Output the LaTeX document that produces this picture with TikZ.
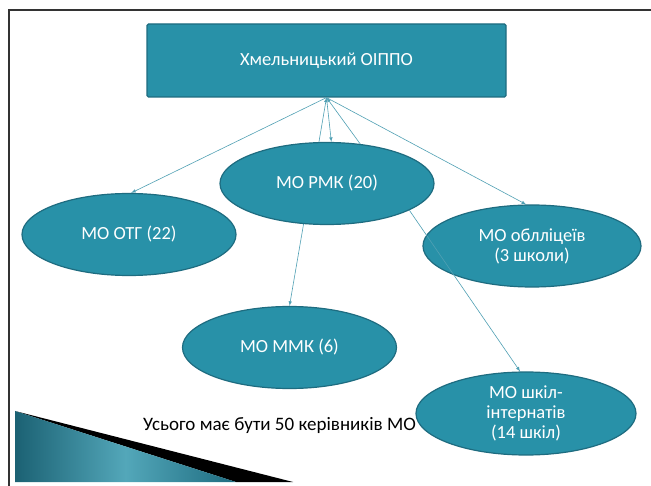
\documentclass[tikz,border=0pt]{standalone}
\usepackage{fontspec}
\setmainfont{Carlito}
\usetikzlibrary{arrows}
\usetikzlibrary{shapes.geometric}
\definecolor{slideTeal}{RGB}{40,145,168}
\definecolor{slideEdge}{RGB}{30,108,128}
\definecolor{linkTeal}{RGB}{80,160,180}
\tikzset{
	orgBox/.style={rectangle, fill=slideTeal, draw=slideEdge, line width=1.2pt, rounded corners=1.5pt,
		minimum width=359pt, minimum height=73pt, text=white, font=\fontsize{18.5}{20}\selectfont},
	orgOval/.style={ellipse, fill=slideTeal, draw=slideEdge, line width=1.2pt, inner sep=0pt,
		minimum width=214pt, minimum height=82pt, align=center, text=white, font=\fontsize{18.5}{20}\selectfont},
	link/.style={draw=linkTeal, line width=0.6pt, >=latex}
}
\newcommand{\drawLinkArrow}[2]{
	\draw[link, ->] (#1) -- (#2);
}

\begin{document}
\begin{tikzpicture}[x=1pt, y=-1pt]
		\useasboundingbox (0,0) rectangle (651,486);
		\fill[white] (0,0) rectangle (651,486);

		% slide frame
		\draw[line width=1.5pt, black!80] (9,486) -- (9,10) -- (651,10);

		% corner arrow
		\coordinate (T_top) at (15,411);
		\coordinate (T_tip) at (293,482);
		\coordinate (T_bot) at (15,482);
		\coordinate (T_mid) at (236,482);
		\fill[black] (T_top) -- (T_tip) -- (T_mid) -- cycle;
		\shade[left color=slideEdge!90!black, right color=slideEdge, middle color=slideTeal!80!white]
			(T_top) -- (T_mid) -- (T_bot) -- cycle;

		\node[orgBox] (oippo) at (326.5,60.5) {Хмельницький ОІППО};
		\node[orgOval] (rmk) at (327,183.5) {МО РМК (20)};
		\node[orgOval] (otg) at (129,234.5) {МО ОТГ (22)};
		\node[orgOval, minimum width=218pt] (oblic) at (532,246) {МО облліцеїв\\(3 школи)};
		\node[orgOval] (mmk) at (289.5,347.5) {МО ММК (6)};
		\node[orgOval, minimum width=220pt, minimum height=83pt] (shkil) at (526,413.5) {МО шкіл-\\інтернатів\\(14 шкіл)};
		\node[font=\fontsize{19}{20}\selectfont] (total) at (279.5,425) {Усього має бути 50 керівників МО};

		\drawLinkArrow{oippo.south}{otg.87}
		\drawLinkArrow{oippo.south}{rmk.84}
		\drawLinkArrow{rmk.101}{oippo.south}
		\drawLinkArrow{rmk.50}{oippo.south}
		\drawLinkArrow{oippo.south}{oblic.98}
		\drawLinkArrow{rmk.240}{mmk.north}
		\drawLinkArrow{rmk.342}{shkil.98}

	\end{tikzpicture}
\end{document}
